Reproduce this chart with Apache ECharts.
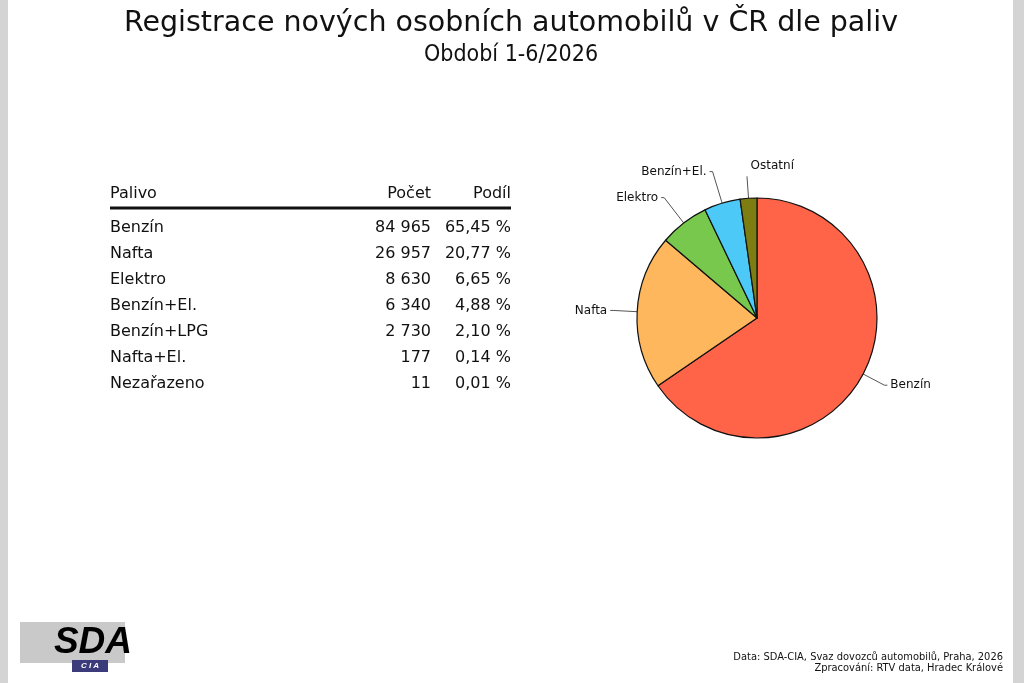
<!DOCTYPE html>
<html>
<head>
<meta charset="utf-8">
<script src="https://cdn.jsdelivr.net/npm/echarts@6/dist/echarts.min.js"></script>
<style>html,body{margin:0;padding:0;background:#fff;}#c{width:1024px;height:683px;}</style>
</head>
<body>
<div id="c"></div>
<script>
// ---- data ----
var tableHeader = ['Palivo', 'Počet', 'Podíl'];
var fuels = ['Benzín', 'Nafta', 'Elektro', 'Benzín+El.', 'Benzín+LPG', 'Nafta+El.', 'Nezařazeno'];
var counts = ['84 965', '26 957', '8 630', '6 340', '2 730', '177', '11'];
var shares = ['65,45 %', '20,77 %', '6,65 %', '4,88 %', '2,10 %', '0,14 %', '0,01 %'];
var pieNames = ['Benzín', 'Nafta', 'Elektro', 'Benzín+El.', 'Ostatní'];
var pieValues = [84965, 26957, 8630, 6340, 2918];
var pieColors = ['#ff6448', '#ffb75e', '#78c84e', '#4dc9f8', '#7d7d12'];
var titleText = 'Registrace nových osobních automobilů v ČR dle paliv';
var subtitleText = 'Období 1-6/2026';
var sourceLines = ['Data: SDA-CIA, Svaz dovozců automobilů, Praha, 2026', 'Zpracování: RTV data, Hradec Králové'];

var chart = echarts.init(document.getElementById('c'), null, {renderer: 'canvas'});
var F = 'DejaVu Sans';
var FC = 'DejaVu Sans Condensed';

var g = [];
// side strips
g.push({type: 'rect', shape: {x: 0, y: 0, width: 8, height: 683}, style: {fill: '#d4d4d4'}});
g.push({type: 'rect', shape: {x: 1013, y: 0, width: 11, height: 683}, style: {fill: '#d4d4d4'}});
// title
g.push({type: 'text', x: 511, y: 9, style: {text: titleText, font: '28.5px ' + F, fill: '#111', textAlign: 'center', textVerticalAlign: 'top'}});
g.push({type: 'text', x: 511, y: 44, style: {text: subtitleText, font: '23px ' + FC, fill: '#111', textAlign: 'center', textVerticalAlign: 'top'}});
// table header
var colX = [110, 431, 511];
var aligns = ['left', 'right', 'right'];
tableHeader.forEach(function (h, i) {
  g.push({type: 'text', x: colX[i], y: 194, style: {text: h, font: '16px ' + F, fill: '#111', textAlign: aligns[i], textVerticalAlign: 'middle'}});
});
g.push({type: 'line', shape: {x1: 110, y1: 208, x2: 511, y2: 208}, style: {stroke: '#111', lineWidth: 3}});
fuels.forEach(function (f, i) {
  var y = 228 + i * 26;
  g.push({type: 'text', x: colX[0], y: y, style: {text: f, font: '16px ' + F, fill: '#111', textAlign: 'left', textVerticalAlign: 'middle'}});
  g.push({type: 'text', x: colX[1], y: y, style: {text: counts[i], font: '16px ' + F, fill: '#111', textAlign: 'right', textVerticalAlign: 'middle'}});
  g.push({type: 'text', x: colX[2], y: y, style: {text: shares[i], font: '16px ' + F, fill: '#111', textAlign: 'right', textVerticalAlign: 'middle'}});
});
// logo
g.push({type: 'rect', shape: {x: 20, y: 622, width: 105, height: 41}, style: {fill: '#c9c9c9'}});
g.push({type: 'text', x: 132, y: 643, style: {text: 'SDA', font: 'italic bold 37px "Liberation Sans"', fill: '#000', textAlign: 'right', textVerticalAlign: 'middle'}});
g.push({type: 'rect', shape: {x: 72, y: 660, width: 36, height: 12}, style: {fill: '#3b3b7c'}});
g.push({type: 'text', x: 90, y: 666, style: {text: 'C I A', font: 'italic bold 8px "Liberation Sans"', fill: '#fff', textAlign: 'center', textVerticalAlign: 'middle'}});
// source
sourceLines.forEach(function (s, i) {
  g.push({type: 'text', x: 1003, y: 657 + i * 11, style: {text: s, font: '11px ' + FC, fill: '#111', textAlign: 'right', textVerticalAlign: 'middle'}});
});

// per-slice leader line lengths (style)
var lineLens = [24, 24, 32, 33, 22];

chart.setOption({
  backgroundColor: '#fff',
  animation: false,
  graphic: g,
  series: [{
    type: 'pie',
    center: [757, 318],
    radius: [0, 120],
    startAngle: 90,
    clockwise: true,
    avoidLabelOverlap: false,
    labelLayout: function (p) {
      if (p.dataIndex === 4) {
        return {dx: 50, dy: -10, hideOverlap: false};
      }
      return {hideOverlap: false};
    },
    data: pieNames.map(function (n, i) {
      return {
        name: n, value: pieValues[i], itemStyle: {color: pieColors[i]},
        labelLine: {length: lineLens[i], length2: i === 4 ? 0 : 3}
      };
    }),
    itemStyle: {borderColor: '#111', borderWidth: 1.2},
    label: {show: true, position: 'outside', formatter: '{b}', fontFamily: F, fontSize: 12, color: '#111', distanceToLabelLine: 3},
    labelLine: {show: true, length: 24, length2: 3, lineStyle: {color: '#555', width: 1}},
    emphasis: {disabled: true}
  }]
});
</script>
</body>
</html>
